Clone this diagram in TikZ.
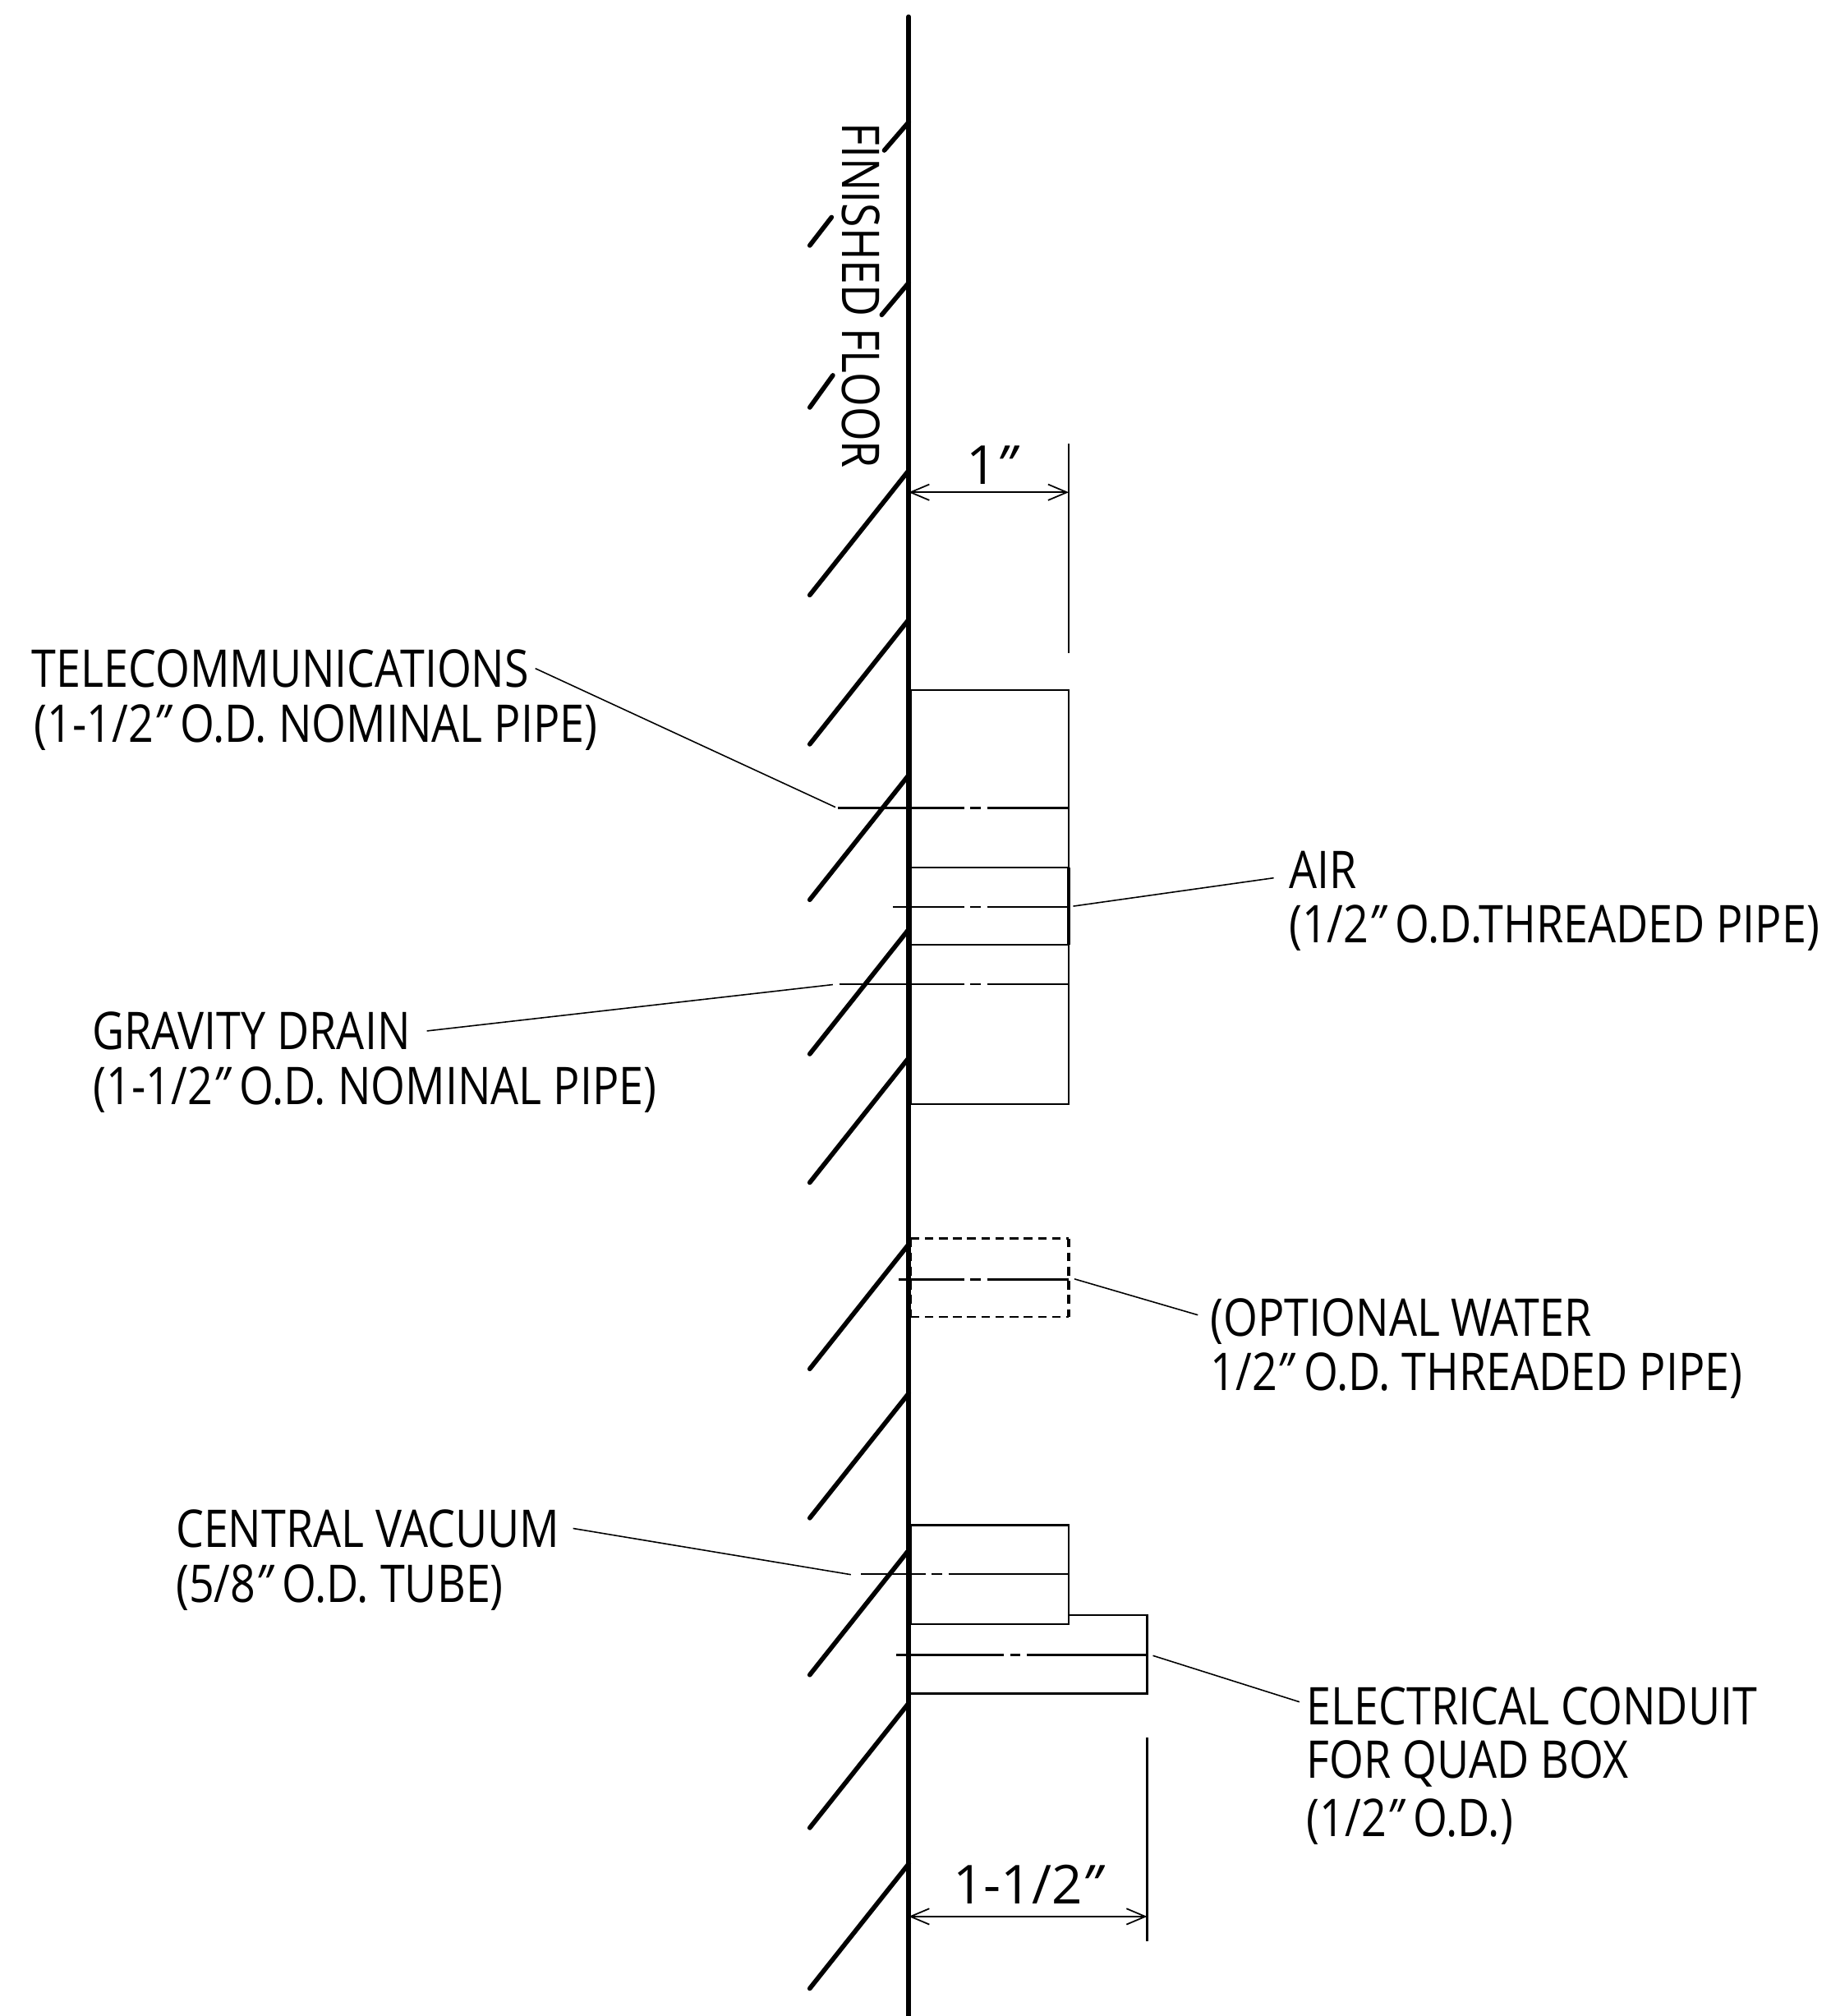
\documentclass[tikz,border=0pt]{standalone}
\usepackage{fontspec}
\setmainfont{Open Sans}
\usetikzlibrary{arrows.meta}

\newcommand{\inch}{{\itshape "}}

\tikzset{
	wall/.style = {line width = 1.6pt, line cap = round},
	thin line/.style = {line width = 0.65pt},
	leader/.style = {line width = 0.45pt},
	labeltext/.style = {anchor = base west, inner sep = 0pt, outer xsep = 2pt, transform shape, xscale = 0.85, font = \fontsize{18}{20}\selectfont},
	floortext/.style = {inner sep = 0pt, transform shape, rotate = -90, xscale = 0.845, font = \fontsize{18}{20}\selectfont},
	dimtext/.style = {inner sep = 0pt, font = \fontsize{18.6}{21}\selectfont},
	dim/.style = {line width = 0.5pt, {Straight Barb[length = 6.5pt, width = 5.5pt]}-{Straight Barb[length = 6.5pt, width = 5.5pt]}},
	optional/.style = {dash pattern = on 3pt off 1.9pt}
}

\begin{document}
\begin{tikzpicture}[x = 0.015646cm, y = -0.015646cm]
		\def\wx{707};
		\def\lx{708.5};
		\def\bx{831.5};
		\def\ex{892.5};

		\useasboundingbox (0,0) rectangle (1424,1568.4);

		\draw[wall] (\wx,13) -- (\wx,1568.4);
		\foreach \ytop in {366, 482, 603, 723, 823, 968, 1084, 1206, 1325, 1450} {
			\draw[wall] (\wx,\ytop) -- (630,\ytop+97);
		}
		\draw[wall] (\wx,95) -- (688,117) (647,169) -- (630,191);
		\draw[wall] (\wx,220) -- (686,245) (648,292) -- (630,317);

		\begin{scope}[thin line]
			\draw (\lx,537) rectangle (\bx,859);
			\draw (\lx,675) -- (\bx,675) (\lx,735) -- (\bx,735);
			\draw[line width = 1pt] (\bx,675) -- (\bx,735);
			\draw[optional] (\lx,963.5) -- (\bx,963.5) (\lx,1024.5) -- (\bx,1024.5);
			\draw[optional, line width = 0.9pt] (\lx,963.5) -- (\lx,1024.5) (\bx,963.5) -- (\bx,1024.5);
			\draw (\lx,1186.5) rectangle (\bx,1263.5);
			\draw (\bx,1256.5) -- (\ex,1256.5) -- (\ex,1317.5) -- (\lx,1317.5);

			\foreach \yc/\xs/\xe/\xg in {628.5/652/\bx/768, 705.5/695/\bx/768, 765.5/653/\bx/768, 995.5/699/\bx/768, 1224.5/670/\bx/738, 1287.5/697/\ex/799} {
				\draw (\xs,\yc) -- (\xg-18,\yc) (\xg-13,\yc) -- (\xg-5,\yc) (\xg,\yc) -- (\xe,\yc);
			}

			\draw (\bx,345) -- (\bx,508);
			\draw (\ex,1352) -- (\ex,1510);
		\end{scope}

		\coordinate (wallA) at (\wx,383);
		\coordinate (boxA) at (\bx,383);
		\coordinate (wallB) at (\wx,1491);
		\coordinate (boxB) at (\ex,1491);
		\draw[dim] (wallA) -- (boxA);
		\draw[dim] (wallB) -- (boxB);
		\node[dimtext] (dimA) at (771,362) {1\inch};
		\node[dimtext] (dimB) at (799,1466) {1-1/2\inch};

		\node[floortext] (floor) at (670,230) {FINISHED FLOOR};

		\node[labeltext] (telecomA) at (21,534.5) {TELECOMMUNICATIONS};
		\node[labeltext] (telecomB) at (23,577.5) {(1-1/2\inch\ O.D. NOMINAL PIPE)};
		\node[labeltext] (gravityA) at (68,816.5) {GRAVITY DRAIN};
		\node[labeltext] (gravityB) at (69,859.5) {(1-1/2\inch\ O.D. NOMINAL PIPE)};
		\node[labeltext] (vacuumA) at (133,1203.5) {CENTRAL VACUUM};
		\node[labeltext] (vacuumB) at (133,1246.5) {(5/8\inch\ O.D. TUBE)};
		\node[labeltext] (airA) at (999,691.5) {AIR};
		\node[labeltext] (airB) at (999,733.5) {(1/2\inch\ O.D.THREADED PIPE)};
		\node[labeltext] (waterA) at (938,1039.5) {(OPTIONAL WATER};
		\node[labeltext] (waterB) at (938,1081.5) {1/2\inch\ O.D. THREADED PIPE)};
		\node[labeltext] (conduitA) at (1013,1341.5) {ELECTRICAL CONDUIT};
		\node[labeltext] (conduitB) at (1013,1383.5) {FOR QUAD BOX};
		\node[labeltext] (conduitC) at (1013,1428.5) {(1/2\inch\ O.D.)};

		\coordinate (telecomEnd) at (650,628);
		\coordinate (gravityEnd) at (648,766);
		\coordinate (vacuumEnd) at (662,1225);
		\coordinate (airEnd) at (835,705);
		\coordinate (waterEnd) at (836,995);
		\coordinate (conduitEnd) at (897,1288);

		\begin{scope}[leader]
			\draw ([xshift = 0.5pt]telecomA.east) -- (telecomEnd);
			\draw ([xshift = 4pt]gravityA.east) -- (gravityEnd);
			\draw ([xshift = 3pt]vacuumA.east) -- (vacuumEnd);
			\draw ([shift = {(-8,6)}]airA.west) -- (airEnd);
			\draw ([shift = {(-6,-5)}]waterA.west) -- (waterEnd);
			\draw ([shift = {(-2,-3)}]conduitA.west) -- (conduitEnd);
		\end{scope}
	\end{tikzpicture}
\end{document}
